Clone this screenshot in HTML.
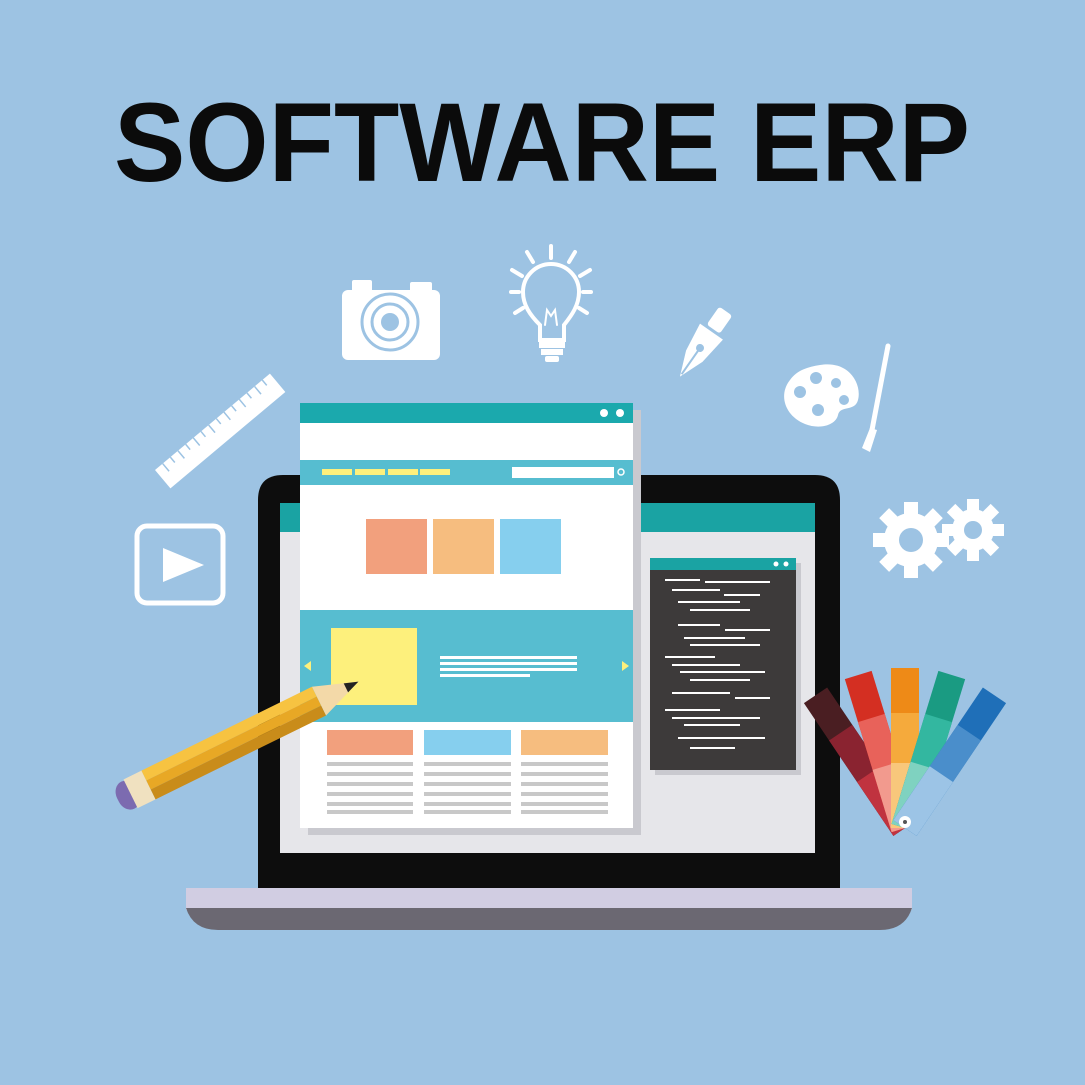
<!DOCTYPE html>
<html><head><meta charset="utf-8"><style>
html,body{margin:0;padding:0;background:#9dc3e3;}
svg{display:block}
</style></head><body>
<svg width="1085" height="1085" viewBox="0 0 1085 1085" xmlns="http://www.w3.org/2000/svg">
<rect width="1085" height="1085" fill="#9dc3e3"/>
<text x="542" y="181" text-anchor="middle" font-family="Liberation Sans, sans-serif" font-weight="bold" font-size="112" textLength="856" lengthAdjust="spacingAndGlyphs" fill="#0b0b0b">SOFTWARE ERP</text>

<!-- ruler -->
<g transform="translate(155,470) rotate(-40)">
<rect x="0" y="0" width="150" height="24" fill="#fff"/>
<g stroke="#9dc3e3" stroke-width="1.5">
<line x1="10" y1="0" x2="10" y2="10"/><line x1="20" y1="0" x2="20" y2="7"/><line x1="30" y1="0" x2="30" y2="10"/><line x1="40" y1="0" x2="40" y2="7"/><line x1="50" y1="0" x2="50" y2="10"/><line x1="60" y1="0" x2="60" y2="7"/><line x1="70" y1="0" x2="70" y2="10"/><line x1="80" y1="0" x2="80" y2="7"/><line x1="90" y1="0" x2="90" y2="10"/><line x1="100" y1="0" x2="100" y2="7"/><line x1="110" y1="0" x2="110" y2="10"/><line x1="120" y1="0" x2="120" y2="7"/><line x1="130" y1="0" x2="130" y2="10"/><line x1="140" y1="0" x2="140" y2="7"/>
</g></g>

<!-- camera -->
<g fill="#fff">
<rect x="342" y="290" width="98" height="70" rx="6"/>
<rect x="352" y="280" width="20" height="12" rx="2"/>
<rect x="410" y="282" width="22" height="10" rx="2"/>
</g>
<circle cx="390" cy="322" r="28" fill="none" stroke="#9dc3e3" stroke-width="3"/>
<circle cx="390" cy="322" r="18" fill="none" stroke="#9dc3e3" stroke-width="3"/>
<circle cx="390" cy="322" r="9" fill="#9dc3e3"/>

<!-- bulb -->
<g fill="none" stroke="#fff" stroke-width="4" stroke-linecap="round">
<path d="M540 340 L540 325 C530 315 523 305 523 292 A28 28 0 0 1 579 292 C579 305 572 315 564 325 L564 340 Z"/>
<line x1="551" y1="246" x2="551" y2="258"/><line x1="527" y1="252" x2="533" y2="262"/><line x1="575" y1="252" x2="569" y2="262"/>
<line x1="512" y1="270" x2="522" y2="276"/><line x1="590" y1="270" x2="580" y2="276"/>
<line x1="511" y1="292" x2="519" y2="292"/><line x1="591" y1="292" x2="583" y2="292"/>
<line x1="515" y1="313" x2="523" y2="308"/><line x1="587" y1="313" x2="579" y2="308"/>
<path d="M545 325 L547 310 L551 316 L555 310 L557 325" stroke-width="2"/>
</g>
<rect x="539" y="340" width="26" height="8" fill="#fff"/><rect x="541" y="349" width="22" height="6" fill="#fff"/><rect x="545" y="356" width="14" height="6" rx="2" fill="#fff"/>

<!-- pen nib -->
<g transform="translate(700,348) rotate(35)" fill="#fff">
<rect x="-8" y="-45" width="16" height="22" rx="3"/>
<path d="M-14 -20 L14 -20 L10 10 L0 35 L-10 10 Z"/>
<circle cx="0" cy="0" r="4" fill="#9dc3e3"/>
<line x1="0" y1="0" x2="0" y2="32" stroke="#9dc3e3" stroke-width="2"/>
</g>

<!-- palette -->
<path d="M820 365 C850 360 862 385 858 400 C855 412 840 405 838 415 C836 425 820 430 805 424 C785 416 778 395 790 380 C797 370 808 367 820 365 Z" fill="#fff"/>
<g fill="#9dc3e3"><circle cx="800" cy="392" r="6"/><circle cx="816" cy="378" r="6"/><circle cx="836" cy="383" r="5"/><circle cx="844" cy="400" r="5"/><circle cx="818" cy="410" r="6"/></g>
<line x1="888" y1="346" x2="872" y2="430" stroke="#fff" stroke-width="5" stroke-linecap="round"/>
<path d="M870 428 L877 430 L870 452 L862 448 Z" fill="#fff"/>

<!-- play -->
<rect x="137" y="526" width="86" height="77" rx="10" fill="none" stroke="#fff" stroke-width="5"/>
<path d="M163 548 L204 565 L163 582 Z" fill="#fff"/>

<!-- gears -->
<g fill="#fff">
<g transform="translate(911,540)">
<circle r="27"/>
<g><rect x="-7" y="-38" width="14" height="76"/><rect x="-7" y="-38" width="14" height="76" transform="rotate(45)"/><rect x="-7" y="-38" width="14" height="76" transform="rotate(90)"/><rect x="-7" y="-38" width="14" height="76" transform="rotate(135)"/></g>
<circle r="12" fill="#9dc3e3"/></g>
<g transform="translate(973,530)">
<circle r="21"/>
<g><rect x="-6" y="-31" width="12" height="62"/><rect x="-6" y="-31" width="12" height="62" transform="rotate(45)"/><rect x="-6" y="-31" width="12" height="62" transform="rotate(90)"/><rect x="-6" y="-31" width="12" height="62" transform="rotate(135)"/></g>
<circle r="9" fill="#9dc3e3"/></g>
</g>

<!-- laptop -->
<path d="M258 500 Q258 475 283 475 L815 475 Q840 475 840 500 L840 890 L258 890 Z" fill="#0d0d0d"/>
<rect x="280" y="503" width="535" height="350" fill="#e6e6ea"/>
<rect x="280" y="503" width="535" height="29" fill="#1aa3a3"/>
<path d="M186 888 L912 888 L912 910 L186 910 Z" fill="#d1cde2"/>
<path d="M186 908 L912 908 Q905 930 880 930 L218 930 Q193 930 186 908 Z" fill="#6b6872"/>

<!-- page window -->
<rect x="308" y="410" width="333" height="425" fill="#c9c9cf"/>
<rect x="300" y="403" width="333" height="425" fill="#fff"/>
<rect x="300" y="403" width="333" height="20" fill="#1ba9ad"/>
<circle cx="604" cy="413" r="4" fill="#fff"/><circle cx="620" cy="413" r="4" fill="#fff"/>
<rect x="300" y="460" width="333" height="25" fill="#56bdd0"/>
<g fill="#fdf07c"><rect x="322" y="469" width="30" height="6"/><rect x="355" y="469" width="30" height="6"/><rect x="388" y="469" width="30" height="6"/><rect x="420" y="469" width="30" height="6"/></g>
<rect x="512" y="467" width="102" height="11" fill="#fff"/>
<circle cx="621" cy="472" r="3" fill="none" stroke="#fff" stroke-width="1.5"/>
<rect x="366" y="519" width="61" height="55" fill="#f2a07d"/>
<rect x="433" y="519" width="61" height="55" fill="#f6bd7f"/>
<rect x="500" y="519" width="61" height="55" fill="#86cfee"/>
<rect x="300" y="610" width="333" height="112" fill="#57bdd0"/>
<rect x="331" y="628" width="86" height="77" fill="#fdf07c"/>
<g fill="#fff"><rect x="440" y="656" width="137" height="3"/><rect x="440" y="662" width="137" height="3"/><rect x="440" y="668" width="137" height="3"/><rect x="440" y="674" width="90" height="3"/></g>
<path d="M304 666 L311 661 L311 671 Z" fill="#fdf07c"/><path d="M629 666 L622 661 L622 671 Z" fill="#fdf07c"/>
<rect x="327" y="730" width="86" height="25" fill="#f2a07d"/>
<rect x="424" y="730" width="87" height="25" fill="#86cfee"/>
<rect x="521" y="730" width="87" height="25" fill="#f6bd7f"/>
<g fill="#c8c8c8">
<rect x="327" y="762" width="86" height="4"/><rect x="327" y="772" width="86" height="4"/><rect x="327" y="782" width="86" height="4"/><rect x="327" y="792" width="86" height="4"/><rect x="327" y="802" width="86" height="4"/><rect x="327" y="810" width="86" height="4"/>
<rect x="424" y="762" width="87" height="4"/><rect x="424" y="772" width="87" height="4"/><rect x="424" y="782" width="87" height="4"/><rect x="424" y="792" width="87" height="4"/><rect x="424" y="802" width="87" height="4"/><rect x="424" y="810" width="87" height="4"/>
<rect x="521" y="762" width="87" height="4"/><rect x="521" y="772" width="87" height="4"/><rect x="521" y="782" width="87" height="4"/><rect x="521" y="792" width="87" height="4"/><rect x="521" y="802" width="87" height="4"/><rect x="521" y="810" width="87" height="4"/>
</g>

<!-- code window -->
<rect x="655" y="563" width="146" height="212" fill="#c9c9cf"/>
<rect x="650" y="558" width="146" height="212" fill="#3d3a3a"/>
<rect x="650" y="558" width="146" height="12" fill="#1aa3a3"/>
<circle cx="776" cy="564" r="2.5" fill="#fff"/><circle cx="786" cy="564" r="2.5" fill="#fff"/>
<g stroke="#fff" stroke-width="2">
<line x1="665" y1="580" x2="700" y2="580"/><line x1="705" y1="582" x2="770" y2="582"/>
<line x1="672" y1="590" x2="720" y2="590"/><line x1="724" y1="595" x2="760" y2="595"/>
<line x1="678" y1="602" x2="740" y2="602"/><line x1="690" y1="610" x2="750" y2="610"/>
<line x1="678" y1="625" x2="720" y2="625"/><line x1="725" y1="630" x2="770" y2="630"/>
<line x1="684" y1="638" x2="745" y2="638"/><line x1="690" y1="645" x2="760" y2="645"/>
<line x1="665" y1="657" x2="715" y2="657"/><line x1="672" y1="665" x2="740" y2="665"/>
<line x1="680" y1="672" x2="765" y2="672"/><line x1="690" y1="680" x2="750" y2="680"/>
<line x1="672" y1="693" x2="730" y2="693"/><line x1="735" y1="698" x2="770" y2="698"/>
<line x1="665" y1="710" x2="720" y2="710"/><line x1="672" y1="718" x2="760" y2="718"/>
<line x1="684" y1="725" x2="740" y2="725"/><line x1="678" y1="738" x2="765" y2="738"/>
<line x1="690" y1="748" x2="735" y2="748"/>
</g>

<!-- pencil -->
<g transform="translate(118,800) rotate(-26.2)">
<rect x="0" y="-15" width="22" height="30" rx="13" fill="#7c6bb0"/>
<rect x="14" y="-16" width="20" height="32" fill="#f0e1c0"/>
<rect x="34" y="-16" width="190" height="11" fill="#f7c341"/>
<rect x="34" y="-5" width="190" height="10" fill="#e8a825"/>
<rect x="34" y="5" width="190" height="11" fill="#c98c1a"/>
<path d="M224 -16 L268 0 L224 16 Z" fill="#f3d9a8"/>
<path d="M254 -5 L268 0 L254 5 Z" fill="#222"/>
</g>

<!-- color swatches fan -->
<g transform="translate(905,828)">
<g transform="rotate(-34)"><rect x="-14" y="-160" width="28" height="160" fill="#4a1e22"/><rect x="-14" y="-115" width="28" height="115" fill="#8a2330"/><rect x="-14" y="-65" width="28" height="65" fill="#c0333f"/></g>
<g transform="rotate(-17)"><rect x="-14" y="-160" width="28" height="160" fill="#d42f22"/><rect x="-14" y="-115" width="28" height="115" fill="#e8625a"/><rect x="-14" y="-65" width="28" height="65" fill="#f29a8e"/></g>
<g transform="rotate(0)"><rect x="-14" y="-160" width="28" height="160" fill="#ee8a17"/><rect x="-14" y="-115" width="28" height="115" fill="#f5aa3c"/><rect x="-14" y="-65" width="28" height="65" fill="#f8c77b"/></g>
<g transform="rotate(17)"><rect x="-14" y="-160" width="28" height="160" fill="#1a9b82"/><rect x="-14" y="-115" width="28" height="115" fill="#33b7a0"/><rect x="-14" y="-65" width="28" height="65" fill="#7fd2c0"/></g>
<g transform="rotate(34)"><rect x="-14" y="-160" width="28" height="160" fill="#1f6fb8"/><rect x="-14" y="-115" width="28" height="115" fill="#4a8ecb"/><rect x="-14" y="-65" width="28" height="65" fill="#9cc4e6"/></g>
<circle cx="0" cy="-6" r="6" fill="#fff"/><circle cx="0" cy="-6" r="2" fill="#555"/>
</g>
</svg>
</body></html>
